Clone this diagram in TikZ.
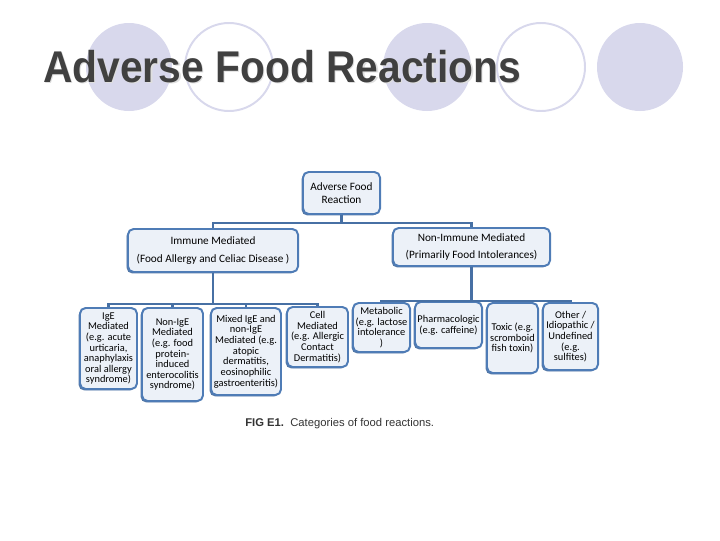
\documentclass[tikz,border=0pt]{standalone}
\usepackage{fontspec}
\setmainfont{Carlito}
\newfontfamily\arialfont{Liberation Sans}
\usetikzlibrary{positioning,shadows}
\definecolor{bulletlilac}{RGB}{216,216,236}
\definecolor{boxblue}{RGB}{79,124,182}
\definecolor{boxfill}{RGB}{236,241,248}
\definecolor{titlegray}{RGB}{64,64,64}

\begin{document}
\begin{tikzpicture}[x=0.025cm, y=-0.025cm,
    catbox/.style={draw=boxblue, line width=1.4pt, fill=boxfill, rounded corners=4pt,
        align=center, inner sep=0pt, font=\fontsize{8}{9.6}\selectfont,
        drop shadow={shadow xshift=-1pt, shadow yshift=-1pt, fill=boxblue!85!black, opacity=0.9}},
    leafbox/.style={catbox, font=\fontsize{7.4}{7.55}\selectfont},
    conn/.style={draw=boxblue!90!black, line width=2pt}]
    \useasboundingbox (0,0) rectangle (720,540);

    % slide bullets
    \fill[bulletlilac] (129,67) circle [x radius=43, y radius=44];
    \draw[bulletlilac, line width=1.4pt] (229,67) circle [x radius=44, y radius=44];
    \fill[bulletlilac] (427,67) circle [x radius=44, y radius=44];
    \draw[bulletlilac, line width=1.4pt] (541,67) circle [x radius=44, y radius=44];
    \fill[bulletlilac] (640,67) circle [x radius=43, y radius=44];

    \node[anchor=base west, text=gray!25, inner sep=0pt,
        font=\arialfont\bfseries\fontsize{29}{30}\selectfont] (titleshadow) at (44.2,83.2)
        {\scalebox{1}[1.09]{Adverse Food Reactions}};
    \node[anchor=base west, text=titlegray, inner sep=0pt,
        font=\arialfont\bfseries\fontsize{29}{30}\selectfont] (title) at (43,82)
        {\scalebox{1}[1.09]{Adverse Food Reactions}};

    \node[catbox, minimum width=1.925cm, minimum height=1.05cm] (afr) at (341.5,193)
        {Adverse Food\\Reaction};
    \node[catbox, minimum width=4.25cm, minimum height=1.075cm] (imm) at (213,250.5)
        {Immune Mediated\\[3pt](Food Allergy and Celiac Disease )};
    \node[catbox, minimum width=3.925cm, minimum height=0.95cm] (nonimm) at (471.5,247)
        {Non-Immune Mediated\\[2.5pt](Primarily Food Intolerances)};

    \node[leafbox, minimum width=1.425cm, minimum height=2.025cm] (ige) at (108.5,348.5)
        {IgE\\Mediated\\(e.g. acute\\urticaria,\\anaphylaxis\\oral allergy\\syndrome)};
    \node[leafbox, minimum width=1.525cm, minimum height=2.325cm] (nonige) at (172.5,354.5)
        {Non-IgE\\Mediated\\(e.g. food\\protein-\\induced\\enterocolitis\\syndrome)};
    \node[leafbox, minimum width=1.75cm, minimum height=2.175cm] (mixed) at (246,351.5)
        {Mixed IgE and\\non-IgE\\Mediated (e.g.\\atopic\\dermatitis,\\eosinophilic\\gastroenteritis)};
    \node[leafbox, minimum width=1.525cm, minimum height=1.5cm] (cell) at (317.5,337)
        {Cell\\Mediated\\(e.g. Allergic\\Contact\\Dermatitis)};
    \node[leafbox, minimum width=1.425cm, minimum height=1.225cm] (metab) at (381.5,327.5)
        {Metabolic\\(e.g. lactose\\intolerance\\)};
    \node[leafbox, minimum width=1.675cm, minimum height=1.15cm] (pharm) at (448.5,325)
        {Pharmacologic\\(e.g. caffeine)};
    \node[leafbox, minimum width=1.275cm, minimum height=1.75cm] (toxic) at (512.5,338)
        {Toxic (e.g.\\scromboid\\fish toxin)};
    \node[leafbox, minimum width=1.375cm, minimum height=1.675cm] (other) at (570.5,336.5)
        {Other /\\Idiopathic /\\Undefined\\(e.g.\\sulfites)};

    \draw[conn] (afr.south) -- ++(0,8) -| (imm.north);
    \draw[conn] (afr.south) -- ++(0,8) -| (nonimm.north);
    \foreach \leaf in {ige,nonige,mixed,cell}
        \draw[conn] (imm.south) -- ++(0,31) -| (\leaf.north);
    \foreach \leaf in {metab,pharm,toxic,other}
        \draw[conn] (nonimm.south) -- ++(0,34) -| (\leaf.north);

    \node[anchor=base west, inner sep=0pt, text=black!80,
        font=\arialfont\fontsize{8}{9}\selectfont] (caption) at (245,426)
        {\textbf{FIG E1.}\ \ Categories of food reactions.};
\end{tikzpicture}
\end{document}
